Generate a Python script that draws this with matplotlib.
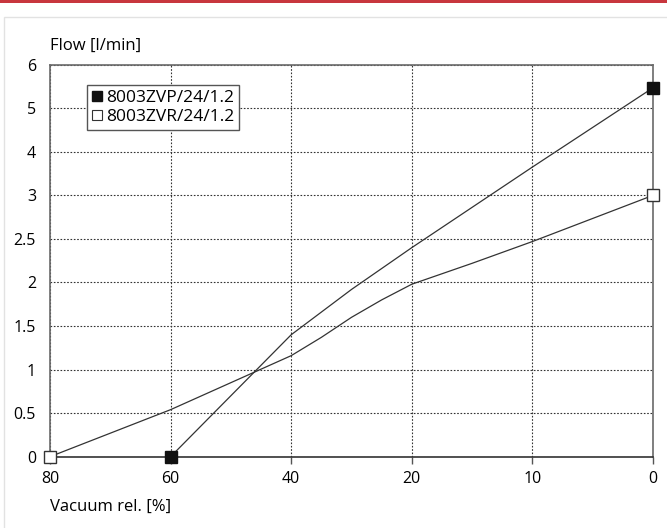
import numpy as np
import matplotlib
matplotlib.use("Agg")
import matplotlib.pyplot as plt
from matplotlib.lines import Line2D
from matplotlib.patches import Rectangle

plt.rcParams['font.family'] = ['Open Sans', 'DejaVu Sans']

# tick values (axes are evenly spaced by tick, not linear)
x_ticks = [80, 60, 40, 20, 10, 0]
y_ticks = [0, 0.5, 1, 1.5, 2, 2.5, 3, 4, 5, 6]

# series
zvp_x = [60, 40, 30, 20, 10, 0]
zvp_y = [0, 1.4, 1.92, 2.4, 3.65, 5.47]
zvr_x = [80, 60, 40, 35, 30, 25, 20, 15, 10, 0]
zvr_y = [0, 0.54, 1.16, 1.37, 1.6, 1.8, 1.98, 2.22, 2.47, 3.0]
labels = ["8003ZVP/24/1.2", "8003ZVR/24/1.2"]

xs_sorted = sorted(x_ticks)
x_pos = list(range(len(xs_sorted)))
y_pos = list(range(len(y_ticks)))


def fx(v):
    return np.interp(v, xs_sorted, x_pos)


def fx_inv(p):
    return np.interp(p, x_pos, xs_sorted)


def fy(v):
    return np.interp(v, y_ticks, y_pos)


def fy_inv(p):
    return np.interp(p, y_pos, y_ticks)


fig = plt.figure(figsize=(6.67, 5.28), dpi=100)

# page decoration: red rule and light panel
fig.patches.append(Rectangle((0, 1 - 2.5 / 528), 1, 2.5 / 528, transform=fig.transFigure,
                             facecolor='#c8363e', edgecolor='none', zorder=-2))
fig.patches.append(Rectangle((4 / 667, -0.01), 1.0, 1 - 17 / 528 + 0.01, transform=fig.transFigure,
                             facecolor='white', edgecolor='#e2e2e2', linewidth=1, zorder=-2))

ax = fig.add_axes([50 / 667, 1 - 456.7 / 528, 603 / 667, 392 / 528])
ax.set_xscale('function', functions=(fx, fx_inv))
ax.set_yscale('function', functions=(fy, fy_inv))
ax.set_xlim(80, 0)
ax.set_ylim(0, 6)
ax.set_xticks(x_ticks)
ax.set_xticklabels([str(v) for v in x_ticks])
ax.set_yticks(y_ticks)
ax.set_yticklabels([('%g' % v) for v in y_ticks])
ax.minorticks_off()

ax.grid(True, color='#333333', linestyle=(0, (1.5, 1.5)), linewidth=0.8)
ax.set_axisbelow(True)
ax.tick_params(axis='x', length=5, width=1, color='#555555', labelsize=11.5, pad=5)
ax.tick_params(axis='y', length=0, labelsize=11.5, pad=10)
for s in ax.spines.values():
    s.set_color('#6a6a6a')
    s.set_linewidth(1.2)
ax.spines['bottom'].set_color('#333333')

line_kw = dict(color='#333333', linewidth=0.9)
ax.plot(zvp_x, zvp_y, **line_kw)
ax.plot(zvr_x, zvr_y, **line_kw)
ax.plot([zvp_x[0], zvp_x[-1]], [zvp_y[0], zvp_y[-1]], linestyle='none', marker='s', markersize=8,
        markerfacecolor='#111111', markeredgecolor='#111111', clip_on=False, zorder=5)
ax.plot([zvr_x[0], zvr_x[-1]], [zvr_y[0], zvr_y[-1]], linestyle='none', marker='s', markersize=8,
        markerfacecolor='white', markeredgecolor='#333333', markeredgewidth=1, clip_on=False, zorder=5)

handles = [Line2D([], [], linestyle='none', marker='s', markersize=7.5, markerfacecolor='#111111',
                  markeredgecolor='#111111'),
           Line2D([], [], linestyle='none', marker='s', markersize=7.5, markerfacecolor='white',
                  markeredgecolor='#333333', markeredgewidth=0.8)]
leg = ax.legend(handles, labels, loc='upper left', bbox_to_anchor=(0.061, 0.948), borderaxespad=0,
                fancybox=False, framealpha=1, edgecolor='#555555', fontsize=12.5,
                handlelength=0.6, handletextpad=0.2, borderpad=0.3, labelspacing=0.15)
leg.get_frame().set_linewidth(1)

fig.text(50 / 667, 1 - 46 / 528, "Flow [l/min]", fontsize=12, ha='left', va='center')
fig.text(50 / 667, 1 - 507 / 528, "Vacuum rel. [%]", fontsize=12, ha='left', va='center')

fig.savefig("out.png", dpi=100)
